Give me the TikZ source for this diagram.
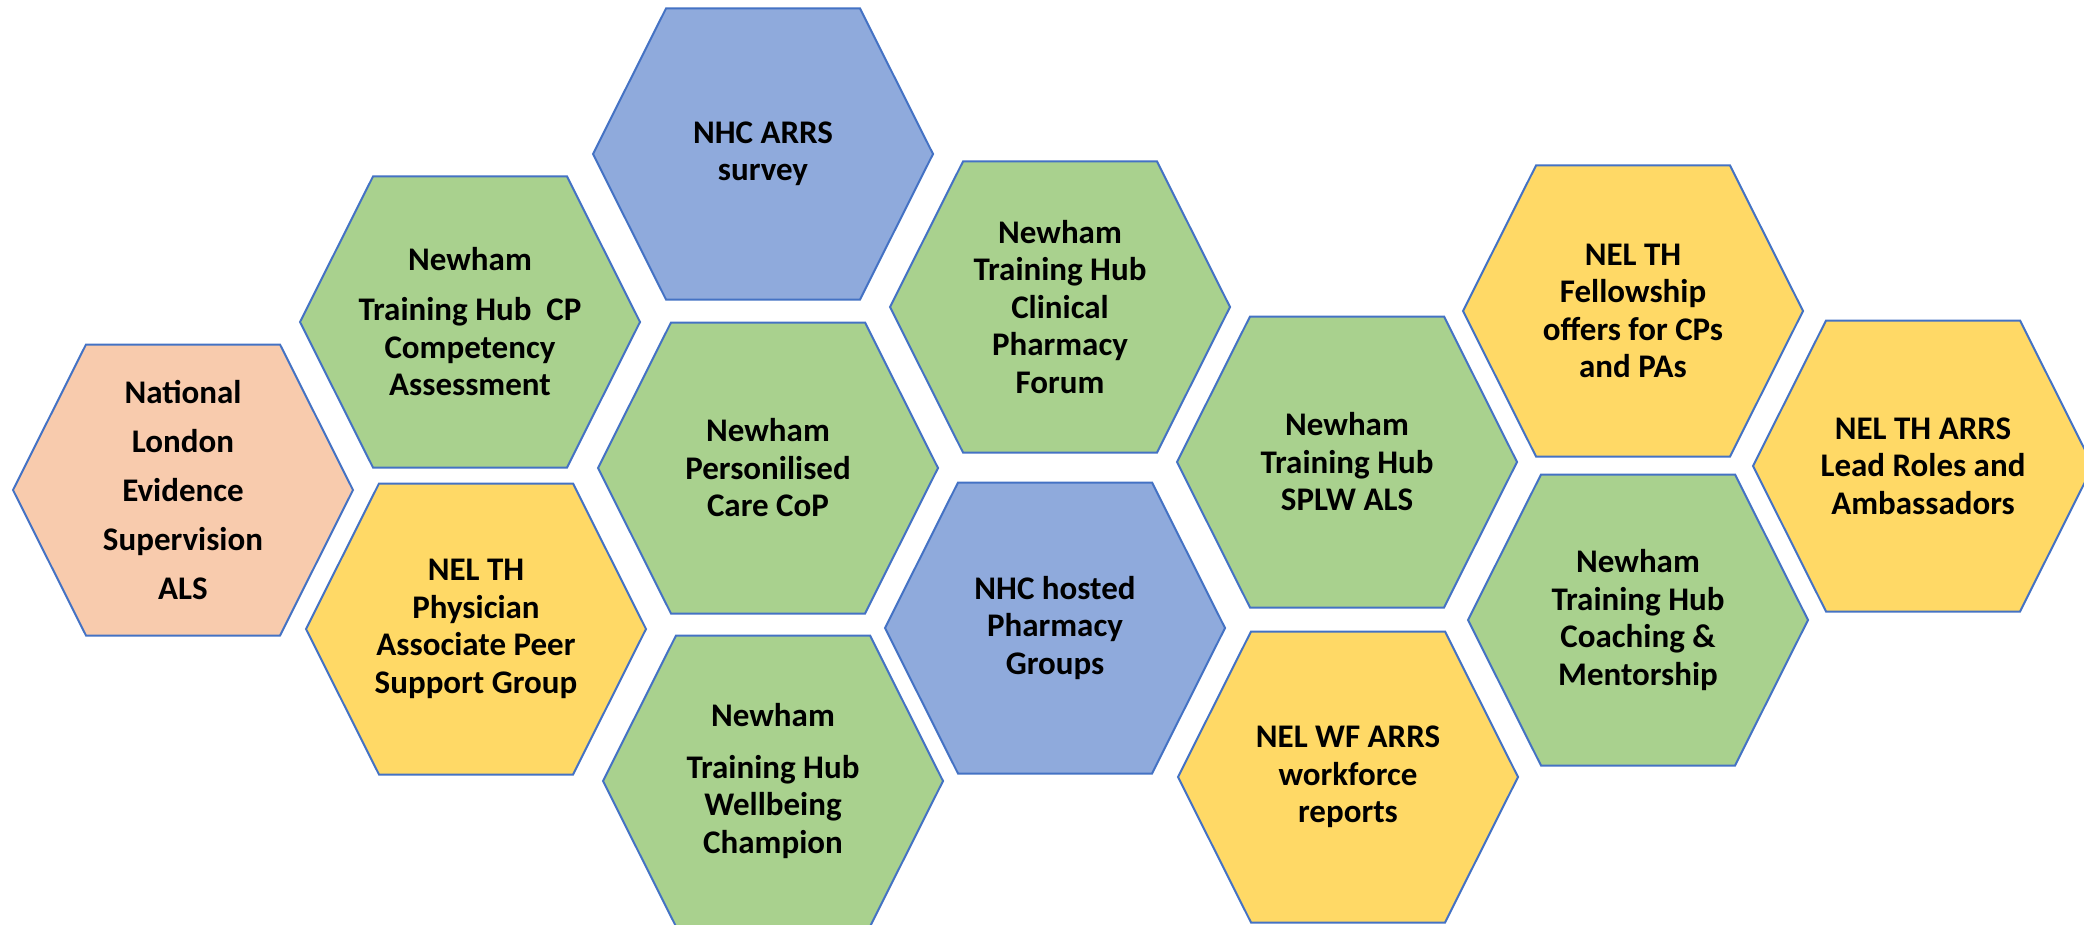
\documentclass[tikz,border=0pt]{standalone}
\usepackage{fontspec}
\setmainfont{Carlito}
\usetikzlibrary{calc}

\definecolor{cellline}{HTML}{4472C4}
\definecolor{cellgreen}{HTML}{A9D18E}
\definecolor{cellblue}{HTML}{8FAADC}
\definecolor{cellyellow}{HTML}{FFD966}
\definecolor{cellsalmon}{HTML}{F8CBAD}

\tikzset{
  cell/.style={draw=cellline, line width=2pt, line join=miter},
  celltext/.style={font=\bfseries\fontsize{33}{37.5}\selectfont, align=center,
                   text=black, inner sep=0pt},
}

% #1 name, #2 x, #3 y (centre), #4 fill colour, #5 label
\newcommand{\hexcell}[5]{%
  \coordinate (#1) at (#2,#3);
  \filldraw[cell, fill=#4] ($(#1)+(-170,0)$) -- ++(73,-145.5) -- ++(194,0)
     -- ++(73,145.5) -- ++(-73,145.5) -- ++(-194,0) -- cycle;
  \node[celltext] (#1-label) at (#1) {#5};
}

\begin{document}
\begin{tikzpicture}[x=1pt,y=-1pt]
  \useasboundingbox (0,0) rectangle (2084,925);
  \clip (0,0) rectangle (2084,925);
  \fill[white] (0,0) rectangle (2084,925);

  \hexcell{nles}{183}{490}{cellsalmon}{National\\[11.5pt]London\\[11.5pt]Evidence\\[11.5pt]Supervision\\[11.5pt]ALS}
  \hexcell{cpca}{470}{322}{cellgreen}{Newham\\[12.5pt]Training Hub\ \ CP\\Competency\\Assessment}
  \hexcell{pasg}{476}{629}{cellyellow}{NEL TH\\Physician\\Associate Peer\\Support Group}
  \hexcell{survey}{763}{154}{cellblue}{NHC ARRS\\survey}
  \hexcell{pccop}{768}{468}{cellgreen}{Newham\\Personilised\\Care CoP}
  \hexcell{wellbeing}{773}{781}{cellgreen}{Newham\\[14pt]Training Hub\\Wellbeing\\Champion}
  \hexcell{cpforum}{1060}{307}{cellgreen}{Newham\\Training Hub\\Clinical\\Pharmacy\\Forum}
  \hexcell{pharmgroups}{1055}{628}{cellblue}{NHC hosted\\Pharmacy\\Groups}
  \hexcell{splw}{1347}{462}{cellgreen}{Newham\\Training Hub\\SPLW ALS}
  \hexcell{wfreports}{1348}{777}{cellyellow}{NEL WF ARRS\\workforce\\reports}
  \hexcell{fellowship}{1633}{311}{cellyellow}{NEL TH\\Fellowship\\offers for CPs\\and PAs}
  \hexcell{coaching}{1638}{620}{cellgreen}{Newham\\Training Hub\\Coaching \&\\Mentorship}
  \hexcell{leadroles}{1923}{466}{cellyellow}{NEL TH ARRS\\Lead Roles and\\Ambassadors}
\end{tikzpicture}
\end{document}
